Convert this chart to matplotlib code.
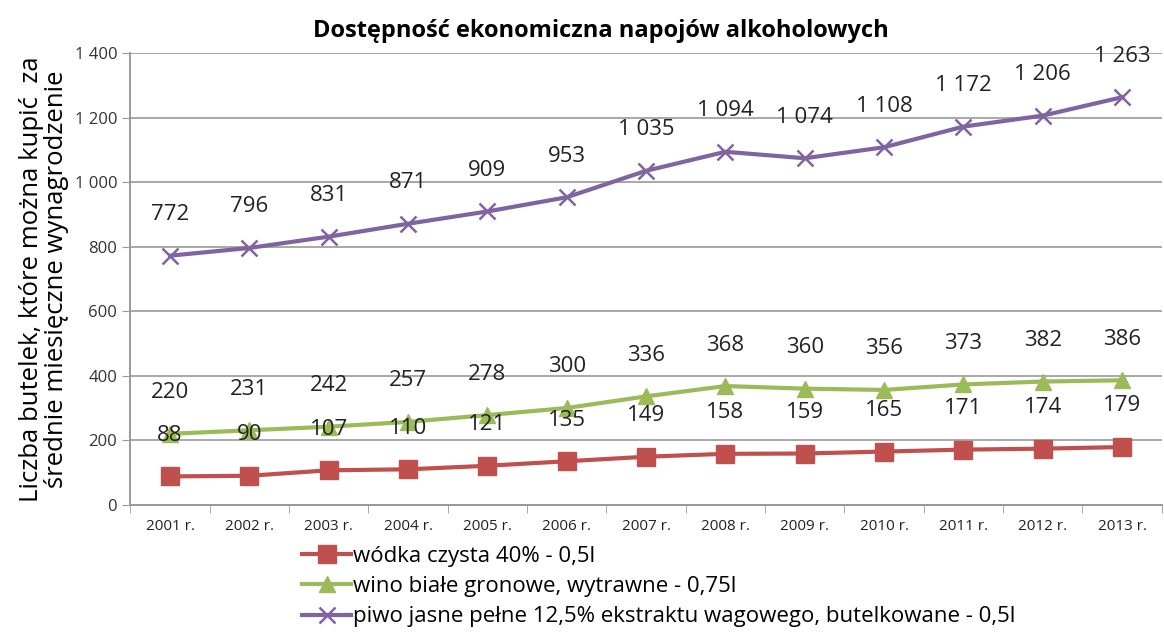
import matplotlib
matplotlib.use("Agg")
import matplotlib.pyplot as plt
from matplotlib.ticker import FixedLocator, FuncFormatter

years = ["2001 r.", "2002 r.", "2003 r.", "2004 r.", "2005 r.", "2006 r.", "2007 r.",
         "2008 r.", "2009 r.", "2010 r.", "2011 r.", "2012 r.", "2013 r."]
wodka = [88, 90, 107, 110, 121, 135, 149, 158, 159, 165, 171, 174, 179]
wino = [220, 231, 242, 257, 278, 300, 336, 368, 360, 356, 373, 382, 386]
piwo = [772, 796, 831, 871, 909, 953, 1035, 1094, 1074, 1108, 1172, 1206, 1263]
series_names = ["wódka czysta 40% - 0,5l",
                "wino białe gronowe, wytrawne - 0,75l",
                "piwo jasne pełne 12,5% ekstraktu wagowego, butelkowane - 0,5l"]
title = "Dostępność ekonomiczna napojów alkoholowych"
ylabel = "Liczba butelek, które można kupić  za\nśrednie miesięczne wynagrodzenie"

FAM = ['Open Sans', 'DejaVu Sans']
plt.rcParams['font.family'] = FAM

fig = plt.figure(figsize=(11.64, 6.39), dpi=100)
ax = fig.add_axes([0.112, 0.21, 0.886, 0.707])

x = list(range(len(years)))
colors = ["#C0504D", "#9BBB59", "#8064A2"]
ax.plot(x, wodka, color=colors[0], lw=3, marker='s', ms=13, label=series_names[0], zorder=3)
ax.plot(x, wino, color=colors[1], lw=3, marker='^', ms=11, label=series_names[1], zorder=3)
ax.plot(x, piwo, color=colors[2], lw=3, marker='x', ms=12, mew=1.8, label=series_names[2], zorder=3)

def fmt(v):
    return f"{v:,}".replace(",", " ")

for data in (wodka, wino, piwo):
    for xi, v in zip(x, data):
        ax.annotate(fmt(v), (xi, v), xytext=(0, 22), textcoords='offset points',
                    ha='center', va='bottom', fontsize=16, color='#222222')

ax.set_xlim(-0.5, len(years) - 0.5)
ax.set_ylim(0, 1400)
ax.set_yticks(range(0, 1401, 200))
ax.yaxis.set_major_formatter(FuncFormatter(lambda v, p: fmt(int(v))))
ax.set_xticks(x)
ax.set_xticklabels(years)
ax.xaxis.set_minor_locator(FixedLocator([i + 0.5 for i in range(-1, len(years))]))
ax.tick_params(axis='x', which='major', length=0, pad=10, labelsize=11, labelcolor='#222222')
ax.tick_params(axis='x', which='minor', length=6, color='#999999')
ax.tick_params(axis='y', length=6, color='#999999', labelsize=12, labelcolor='#333333')
ax.grid(axis='y', color='#a8a8a8', lw=1.4)
ax.set_axisbelow(True)
for s in ('top', 'right'):
    ax.spines[s].set_visible(False)
for s in ('left', 'bottom'):
    ax.spines[s].set_color('#999999')
    ax.spines[s].set_linewidth(1.4)

fig.text(0.516, 0.952, title, fontsize=17, fontweight='bold', ha='center', va='center')
ax.set_ylabel(ylabel, fontsize=18.5, labelpad=4, linespacing=1.0)

leg = fig.legend(loc='upper left', bbox_to_anchor=(0.252, 0.16), frameon=False,
                 handlelength=2.2, handletextpad=0.1, labelspacing=0.42,
                 borderaxespad=0, prop={'family': FAM, 'size': 16})

fig.savefig("out.png", dpi=100)
